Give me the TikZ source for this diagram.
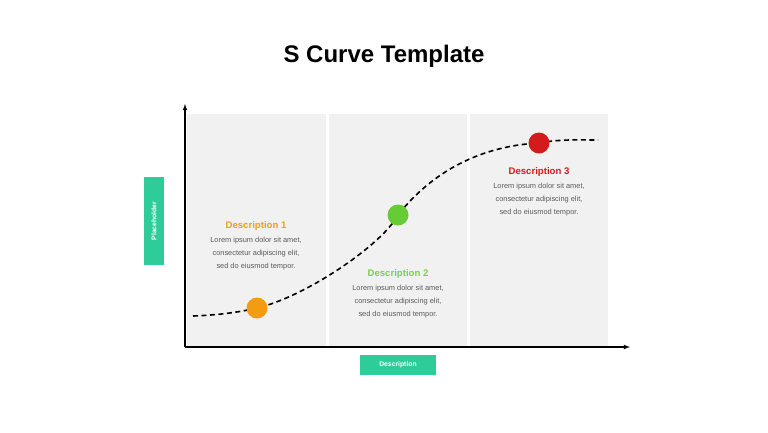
\documentclass[tikz,border=0pt]{standalone}
\usepackage{fontspec}
\setmainfont{Liberation Sans}
\usepackage{tikz}
\usetikzlibrary{positioning,arrows}

\definecolor{panelgray}{HTML}{F1F1F1}
\definecolor{textgray}{HTML}{5A5A5A}
\definecolor{tagteal}{HTML}{2ECC99}
\definecolor{dotorange}{HTML}{F39C12}
\definecolor{dotgreen}{HTML}{66CC33}
\definecolor{headgreen}{HTML}{7CCF4E}
\definecolor{dotred}{HTML}{D41B1B}

\begin{document}
\begin{tikzpicture}[x=1pt,y=-1pt,>=latex,semithick]
  \tikzstyle{panel}=[fill=panelgray]
  \tikzstyle{dot}=[circle,minimum size=21pt,inner sep=0pt]
  \tikzstyle{head}=[inner sep=0pt,font=\bfseries\fontsize{9.6}{11}\selectfont]
  \tikzstyle{body}=[inner sep=0pt,align=center,text=textgray,
                    font=\fontsize{7.4}{13}\selectfont]
  \tikzstyle{tag}=[fill=tagteal,text=white,inner sep=0pt,minimum height=20pt,
                   font=\bfseries\fontsize{6.8}{8}\selectfont]

  \useasboundingbox (0,0) rectangle (768,432);

  \node[font=\bfseries\fontsize{24}{28}\selectfont] (T) at (384,56) {S Curve Template};

  % panels
  \fill[panel] (187,114) rectangle (326,346);
  \fill[panel] (329,114) rectangle (467,346);
  \fill[panel] (470,114) rectangle (608,346);

  % axes
  \coordinate (O)  at (185,347);
  \coordinate (YE) at (185,104);
  \coordinate (XE) at (630,347);
  \draw[->,line width=1.1pt] (O) -- (YE);
  \draw[->,line width=1.1pt] (O) -- (XE);

  \node[tag,minimum width=88pt,rotate=90] (Y) at (154,221) {Placeholder};
  \node[tag,minimum width=76pt]           (X) at (398,365) {Description};

  % s curve
  \coordinate (S)  at (193,316);
  \coordinate (P1) at (257,308);
  \coordinate (P2) at (398,215);
  \coordinate (P3) at (539,143);
  \coordinate (E)  at (598,140);
  \draw[line width=1.6pt,dash pattern=on 5pt off 3.5pt]
    (S) .. controls (220,315) and (240,312) .. (P1)
        .. controls (305,297) and (382,245) .. (P2)
        .. controls (432,172) and (480,146) .. (P3)
        .. controls (560,139) and (580,140) .. (E);

  \node[dot,fill=dotorange] (D1) at (P1) {};
  \node[dot,fill=dotgreen]  (D2) at (P2) {};
  \node[dot,fill=dotred]    (D3) at (P3) {};

  \node[head,text=dotorange] (H1) at (256,226.5) {Description 1};
  \node[head,text=headgreen] (H2) at (398,274.5) {Description 2};
  \node[head,text=dotred]    (H3) at (539,172.5) {Description 3};

  \node[body] (B1) [below=6pt of H1] {Lorem ipsum dolor sit amet,\\consectetur adipiscing elit,\\sed do eiusmod tempor.};
  \node[body] (B2) [below=6pt of H2] {Lorem ipsum dolor sit amet,\\consectetur adipiscing elit,\\sed do eiusmod tempor.};
  \node[body] (B3) [below=6pt of H3] {Lorem ipsum dolor sit amet,\\consectetur adipiscing elit,\\sed do eiusmod tempor.};
\end{tikzpicture}
\end{document}
